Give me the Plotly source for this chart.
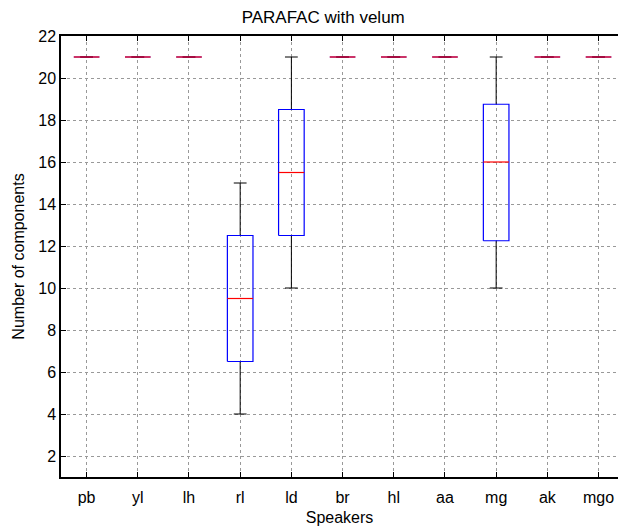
import plotly.graph_objects as go

# per-speaker box statistics
speakers = ["pb", "yl", "lh", "rl", "ld", "br", "hl", "aa", "mg", "ak", "mgo"]
lower = [21, 21, 21, 4, 10, 21, 21, 21, 10, 21, 21]
q1 = [21, 21, 21, 6.5, 12.5, 21, 21, 21, 12.25, 21, 21]
median = [21, 21, 21, 9.5, 15.5, 21, 21, 21, 16, 21, 21]
q3 = [21, 21, 21, 12.5, 18.5, 21, 21, 21, 18.75, 21, 21]
upper = [21, 21, 21, 15, 21, 21, 21, 21, 21, 21, 21]

BW = 0.25   # half box width
CW = 0.125  # half cap width
pos = list(range(1, len(speakers) + 1))


def segs(pairs):
    xs, ys = [], []
    for (x0, y0, x1, y1) in pairs:
        xs += [x0, x1, None]
        ys += [y0, y1, None]
    return xs, ys


fig = go.Figure()

# whiskers and caps (black)
wx, wy = segs([(p, lo, p, a) for p, lo, a in zip(pos, lower, q1)] +
              [(p, b, p, hi) for p, b, hi in zip(pos, q3, upper)] +
              [(p - CW, lo, p + CW, lo) for p, lo in zip(pos, lower)] +
              [(p - CW, hi, p + CW, hi) for p, hi in zip(pos, upper)])
fig.add_trace(go.Scatter(x=wx, y=wy, mode="lines", line=dict(color="black", width=1),
                         hoverinfo="skip", showlegend=False))

# boxes (blue)
bx, by = [], []
for p, a, b in zip(pos, q1, q3):
    bx += [p - BW, p + BW, p + BW, p - BW, p - BW, None]
    by += [a, a, b, b, a, None]
fig.add_trace(go.Scatter(x=bx, y=by, mode="lines", line=dict(color="#0000ff", width=1.2),
                         hoverinfo="skip", showlegend=False))

# medians (red)
mx, my = segs([(p - BW, m, p + BW, m) for p, m in zip(pos, median)])
fig.add_trace(go.Scatter(x=mx, y=my, mode="lines", line=dict(color="#ff0000", width=1.2),
                         hoverinfo="skip", showlegend=False))

FONT = "Liberation Sans, Arial, Helvetica, sans-serif"
fig.update_layout(
    width=618, height=527,
    margin=dict(l=61, r=0, t=36, b=50),
    paper_bgcolor="white", plot_bgcolor="white",
    font=dict(family=FONT, size=16, color="black"),
    title=dict(text="PARAFAC with velum", x=0.523, xanchor="center", y=0.968, yanchor="middle",
               font=dict(family=FONT, size=17, color="black"), automargin=False),
)
# the plot is cut at the right edge in the original, as if the window was too narrow
fig.update_xaxes(
    range=[0.5, 11.38], tickmode="array", tickvals=pos, ticktext=speakers,
    showline=True, linecolor="black", linewidth=1.5, mirror="ticks",
    ticks="inside", ticklen=5, tickcolor="black", automargin=False,
    tickfont=dict(family=FONT, size=16), ticklabelstandoff=5, ticklabeloverflow="allow",
    showgrid=True, gridcolor="#999999", griddash="dot", gridwidth=1, zeroline=False,
    title=dict(text="Speakers", standoff=7, font=dict(family=FONT, size=16)),
)
fig.update_yaxes(
    range=[1, 22], tickmode="array", tickvals=list(range(2, 23, 2)),
    showline=True, linecolor="black", linewidth=1.5, mirror=False,
    ticks="inside", ticklen=5, tickcolor="black", automargin=False,
    tickfont=dict(family=FONT, size=16),
    showgrid=True, gridcolor="#999999", griddash="dot", gridwidth=1, zeroline=False,
    title=dict(text="Number of components", standoff=10, font=dict(family=FONT, size=16)),
)

# drop the default 8px body margin so the figure fills the window exactly
fig.write_html("out.html", config={"displayModeBar": False},
               post_script="document.body.style.margin='0';document.body.style.overflow='hidden';")
